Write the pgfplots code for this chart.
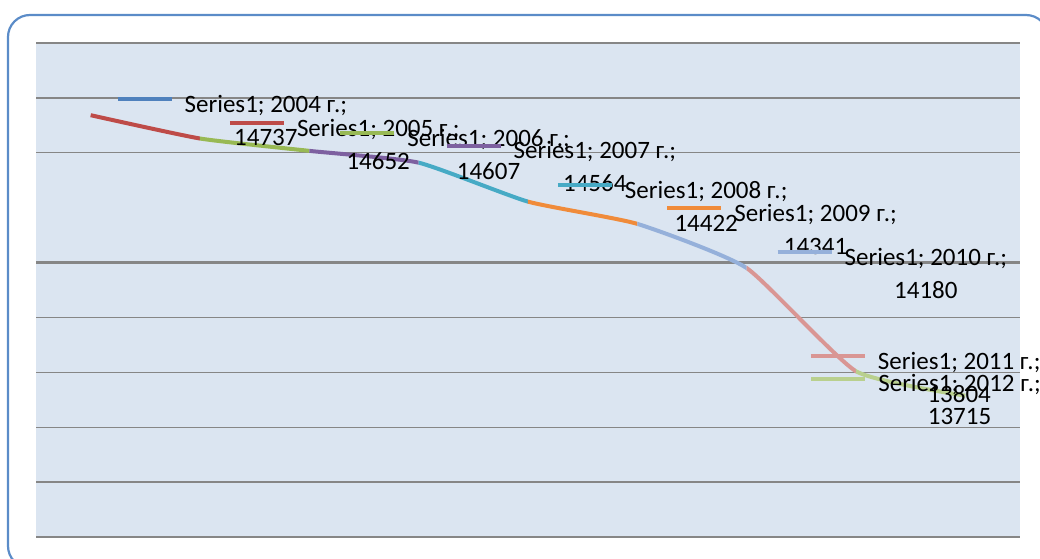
\documentclass[border=0pt]{standalone}
\usepackage{fontspec}
\setmainfont{Carlito}
\usepackage{pgfplots}
\usepackage{pgfplotstable}
\pgfplotsset{compat=1.18}
\definecolor{cA}{HTML}{4F81BD}
\definecolor{cB}{HTML}{BE4B48}
\definecolor{cC}{HTML}{98B954}
\definecolor{cD}{HTML}{7D60A0}
\definecolor{cE}{HTML}{46AAC5}
\definecolor{cF}{HTML}{F08B3A}
\definecolor{cG}{HTML}{95B0DA}
\definecolor{cH}{HTML}{D99694}
\definecolor{cI}{HTML}{B9D08E}
\definecolor{plotbg}{HTML}{DBE5F1}
\definecolor{gridc}{HTML}{868686}
\definecolor{border}{HTML}{5B8CC8}

\pgfplotstableread{
x v
0 14737
1 14652
2 14607
3 14564
4 14422
5 14341
6 14180
7 13804
8 13715
}\data

\newcommand\seg[3]{%
  \begin{scope}
    \clip (axis cs:#1,12000) rectangle (axis cs:#2,16000);
    \addplot[#3, line width=2bp, smooth, tension=0.3, no markers] table[x=x,y=v] {\data};
  \end{scope}}

\newcommand\lab[6]{%
  \draw[#3, line width=2bp] ([xshift=#4*0.5bp, yshift=#5*0.5bp]axis cs:#1,#2) --
    ([xshift=#4*0.5bp+27bp, yshift=#5*0.5bp]axis cs:#1,#2)
    node[anchor=north west, inner sep=0pt, xshift=5.5bp, yshift=3bp, text=black, align=center,
         font=\fontsize{12.5bp}{16.5bp}\selectfont] {Series1; #6 г.;\\#2};}

\begin{document}
\begin{tikzpicture}
\useasboundingbox (0,0) rectangle (520bp,-279.5bp);
\begin{scope}
  \clip (0,0) rectangle (520bp,-279.5bp);
  \draw[border, line width=1.1bp, rounded corners=11bp] (4bp,-7.5bp) rectangle (524bp,-284bp);
\end{scope}
\begin{axis}[
  at={(18bp,-268.5bp)}, anchor=south west,
  width=492bp, height=247bp, scale only axis,
  xmin=-0.5, xmax=8.5, ymin=13200, ymax=15000,
  axis line style={draw=none},
  axis background/.style={fill=plotbg},
  xtick=\empty,
  ytick={13200,13400,13600,13800,14000,14600,14800,15000},
  yticklabels={},
  scaled y ticks=false,
  major tick length=0pt,
  ymajorgrids,
  grid style={gridc, line width=0.65bp},
  extra y ticks={14200},
  extra y tick labels={},
  extra y tick style={grid style={gridc, line width=1.1bp}},
  clip mode=individual,
]
\seg{-0.5}{1}{cB}
\seg{1}{2}{cC}
\seg{2}{3}{cD}
\seg{3}{4}{cE}
\seg{4}{5}{cF}
\seg{5}{6}{cG}
\seg{6}{7}{cH}
\seg{7}{8.5}{cI}

\lab{0}{14737}{cA}{27}{16}{2004}
\lab{1}{14652}{cB}{30}{15.5}{2005}
\lab{2}{14607}{cC}{31}{18}{2006}
\lab{3}{14564}{cD}{28}{17}{2007}
\lab{4}{14422}{cE}{30}{16.6}{2008}
\lab{5}{14341}{cF}{30}{16}{2009}
\lab{6}{14180}{cG}{31}{16}{2010}
\lab{7}{13804}{cH}{-45}{15}{2011}
\lab{8}{13715}{cI}{-154}{17}{2012}
\end{axis}
\end{tikzpicture}
\end{document}
